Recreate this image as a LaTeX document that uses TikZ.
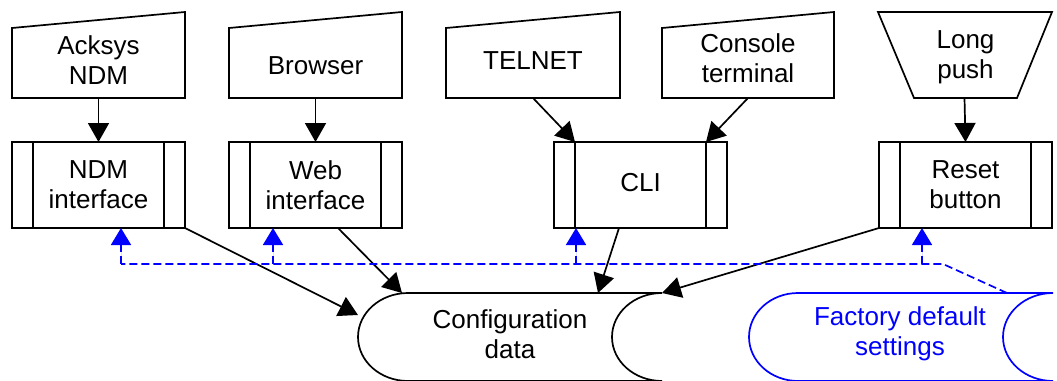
\documentclass[tikz,border=0pt]{standalone}
\usepackage{fontspec}
\setmainfont{Liberation Sans}
\usetikzlibrary{arrows.meta}
\definecolor{vblue}{RGB}{0,0,255}
\begin{document}
\begin{tikzpicture}[x=1pt,y=-1pt,
  lw/.style={line width=1.7pt},
  box/.style={draw=none, minimum width=173pt, minimum height=86pt, inner sep=0pt, outer sep=0pt},
  lbl/.style={font=\fontsize{26}{30}\selectfont, align=center, inner sep=0pt},
  arr/.style={lw, -{Triangle[length=19pt,width=21pt]}},
  bdash/.style={lw, draw=vblue, dash pattern=on 8pt off 4pt},
  barr/.style={bdash, -{Triangle[length=17pt,width=20pt]}, fill=vblue}
]
\useasboundingbox (0,0) rectangle (1057,380);

% input shapes
\node[box] (acksys) at (98.5,55) {};
\node[box] (browser) at (315.5,55) {};
\node[box, minimum width=174pt] (telnet) at (533,55) {};
\node[box, minimum width=172pt] (console) at (748,55) {};
\node[box, minimum width=174pt] (push) at (965,55) {};
\foreach \n in {acksys,browser,telnet,console}
  \draw[lw] (\n.south west) -- ([yshift=-16pt]\n.north west) -- (\n.north east) -- (\n.south east) -- cycle;
\draw[lw] (push.north west) -- (push.north east) -- ([xshift=-35pt]push.south east) -- ([xshift=36pt]push.south west) -- cycle;

% interface boxes
\node[box] (ndm) at (98.5,185) {};
\node[box] (web) at (315.5,185) {};
\node[box] (cli) at (640.5,185) {};
\node[box] (reset) at (965.5,185) {};
\foreach \n in {ndm,web,cli,reset} {
  \draw[lw] (\n.south west) rectangle (\n.north east);
  \draw[lw] ([xshift=21pt]\n.south west) -- ([xshift=21pt]\n.north west);
  \draw[lw] ([xshift=-21pt]\n.south east) -- ([xshift=-21pt]\n.north east);
}

% labels
\node[lbl] (acksys-t) at (98.5,60) {Acksys\\NDM};
\node[lbl] (browser-t) at (315.5,66) {Browser};
\node[lbl] (telnet-t) at (533,61) {TELNET};
\node[lbl] (console-t) at (748,58) {Console\\terminal};
\node[lbl] (push-t) at (965.5,57) {Long\\push};
\node[lbl] (ndm-t) at (98.5,185) {NDM\\interface};
\node[lbl] (web-t) at (315.5,185) {Web\\interface};
\node[lbl] (cli-t) at (640.5,183) {CLI};
\node[lbl] (reset-t) at (965.5,185) {Reset\\button};

% stored data shapes
\draw[lw] (408,293) -- (662,293) arc[start angle=90,end angle=270,x radius=50pt,y radius=44pt]
  -- (408,381) arc[start angle=270,end angle=90,x radius=50pt,y radius=44pt] -- cycle;
\node[lbl] (cfg) at (510,334) {Configuration\\data};
\draw[lw, vblue] (798,293) -- (1053,293) arc[start angle=90,end angle=270,x radius=50pt,y radius=44pt]
  -- (798,381) arc[start angle=270,end angle=90,x radius=49pt,y radius=44pt] -- cycle;
\node[lbl, text=vblue] (fds) at (900,334) {Factory default\\settings};

% connector end points
\coordinate (cfgL) at (358,315);
\coordinate (cfgA) at (402,293);
\coordinate (cfgB) at (598,293);
\coordinate (cfgC) at (662,293);
\coordinate (fdsA) at (1007,293);
\coordinate (bend) at (943,264);
\coordinate (j1) at (121,264);
\coordinate (j2) at (273,264);
\coordinate (j3) at (576,264);
\coordinate (j4) at (922,264);

% black connectors
\draw[arr] (acksys.south) -- (ndm.north);
\draw[arr] (browser.south) -- (web.north);
\draw[arr] (telnet.south) -- ([xshift=21pt]cli.north west);
\draw[arr] (console.south) -- ([xshift=-21pt]cli.north east);
\draw[arr] ([xshift=-0.5pt]push.south) -- (reset.north);
\draw[arr] (ndm.south east) -- (cfgL);
\draw[arr] ([xshift=22.5pt]web.south) -- (cfgA);
\draw[arr] ([xshift=-21.5pt]cli.south) -- (cfgB);
\draw[arr] (reset.south west) -- (cfgC);

% blue reset lines
\draw[bdash] (fdsA) -- (bend) -- (j1);
\draw[barr] (j1) -- (j1 |- ndm.south);
\draw[barr] (j2) -- (j2 |- web.south);
\draw[barr] (j3) -- (j3 |- cli.south);
\draw[barr] (j4) -- (j4 |- reset.south);
\end{tikzpicture}
\end{document}
